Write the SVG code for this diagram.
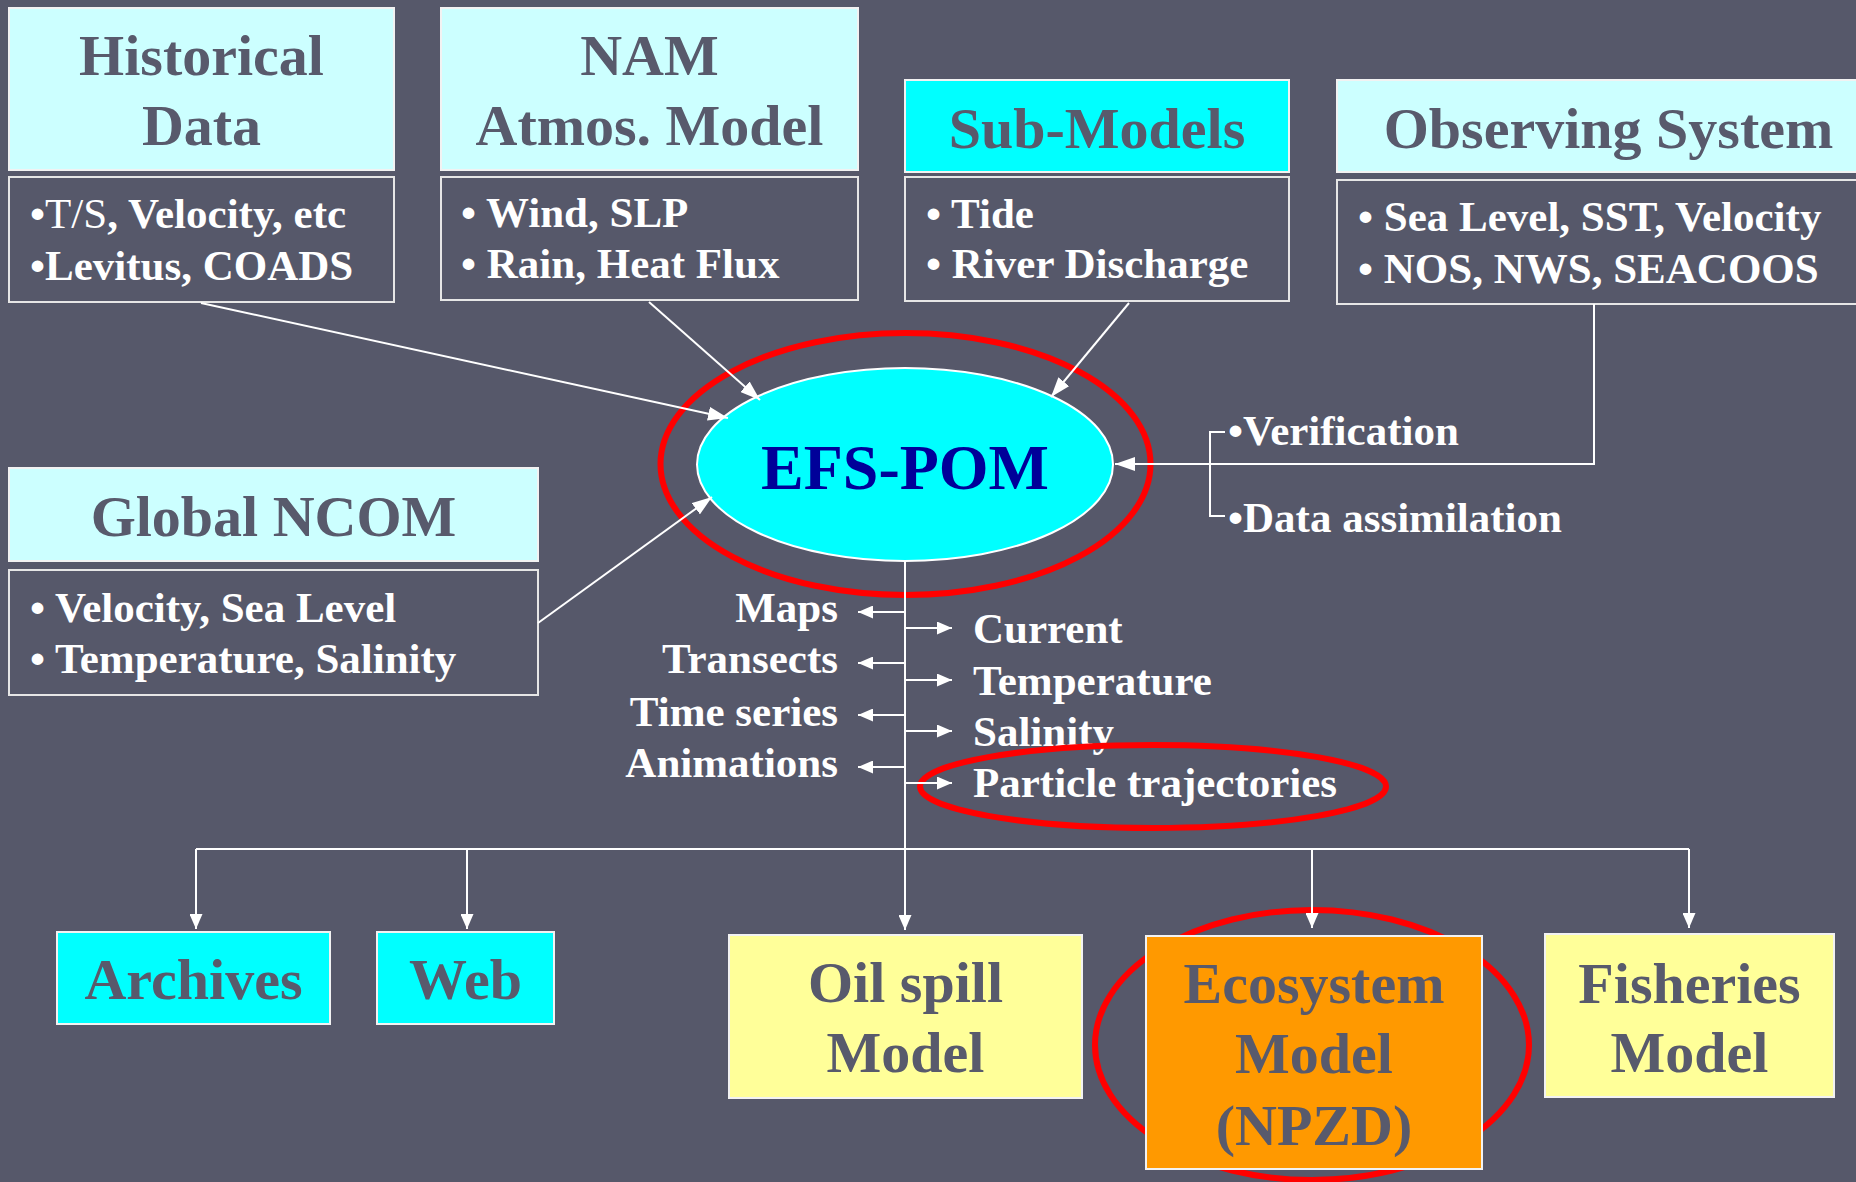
<svg xmlns="http://www.w3.org/2000/svg" width="1856" height="1182" viewBox="0 0 1856 1182">
<style>
text{font-family:"Liberation Serif","Times New Roman",serif;font-weight:bold}
.hd{fill:#CCFFFF;stroke:#F2F2F2;stroke-width:2}
.hdc{fill:#00FFFF;stroke:#F2F2F2;stroke-width:2}
.dt{fill:none;stroke:#E6E6E6;stroke-width:2}
.ht{font-size:58px;fill:#585A6C;text-anchor:middle}
.dx{font-size:43px;fill:#FFFFFF}
.ol{font-size:43px;fill:#FFFFFF;text-anchor:end}
.ln{fill:none;stroke:#FFFFFF;stroke-width:2}
.red{fill:none;stroke:#FF0000;stroke-width:6}
.yl{fill:#FFFF99;stroke:#F2F2F2;stroke-width:2}
.or{fill:#FF9900;stroke:#F2F2F2;stroke-width:2}
</style>
<defs>
<marker id="ah" markerWidth="20" markerHeight="14" refX="20" refY="7" orient="auto" markerUnits="userSpaceOnUse"><path d="M0,0 L20,7 L0,14 z" fill="#FFFFFF"/></marker>
<marker id="as" markerWidth="15" markerHeight="13" refX="15" refY="6.5" orient="auto" markerUnits="userSpaceOnUse"><path d="M0,0 L15,6.5 L0,13 z" fill="#FFFFFF"/></marker>
</defs>
<rect x="0" y="0" width="1856" height="1182" fill="#56586A"/>

<g id="historical">
<rect class="hd" x="9" y="8" width="385" height="162"/>
<text class="ht" x="201.5" y="75">Historical</text>
<text class="ht" x="201.5" y="145">Data</text>
<rect class="dt" x="9" y="177" width="385" height="125"/>
<text class="dx" x="30" y="228">•<tspan font-weight="normal">T/S</tspan>, Velocity, etc</text>
<text class="dx" x="30" y="280">•Levitus, COADS</text>
</g>

<g id="nam">
<rect class="hd" x="441" y="8" width="417" height="162"/>
<text class="ht" x="649.5" y="75">NAM</text>
<text class="ht" x="649.5" y="145">Atmos. Model</text>
<rect class="dt" x="441" y="177" width="417" height="123"/>
<text class="dx" x="461" y="227">• Wind, SLP</text>
<text class="dx" x="461" y="278">• Rain, Heat Flux</text>
</g>

<g id="submodels">
<rect class="hdc" x="905" y="80" width="384" height="92"/>
<text class="ht" x="1097" y="148">Sub-Models</text>
<rect class="dt" x="905" y="177" width="384" height="124"/>
<text class="dx" x="926" y="228">• Tide</text>
<text class="dx" x="926" y="278">• River Discharge</text>
</g>

<g id="observing">
<rect class="hd" x="1337" y="80" width="530" height="92"/>
<text class="ht" x="1608.5" y="148">Observing System</text>
<rect class="dt" x="1337" y="180" width="530" height="124"/>
<text class="dx" x="1358" y="231">• Sea Level, SST, Velocity</text>
<text class="dx" x="1358" y="283">• NOS, NWS, SEACOOS</text>
</g>

<g id="ncom">
<rect class="hd" x="9" y="468" width="529" height="93"/>
<text class="ht" x="273.5" y="536">Global NCOM</text>
<rect class="dt" x="9" y="570" width="529" height="125"/>
<text class="dx" x="30" y="622">• Velocity, Sea Level</text>
<text class="dx" x="30" y="673">• Temperature, Salinity</text>
</g>

<g id="efspom">
<ellipse cx="905" cy="464.5" rx="208" ry="96.5" fill="#00FFFF" stroke="#FFFFFF" stroke-width="2"/>
<text x="905" y="489" font-size="64" fill="#000099" text-anchor="middle">EFS-POM</text>
<ellipse class="red" cx="905.5" cy="464" rx="245" ry="131"/>
</g>

<g id="assim">
<text class="dx" x="1228" y="445">•Verification</text>
<text class="dx" x="1228" y="532">•Data assimilation</text>
</g>

<g id="outputs">
<text class="ol" x="838" y="622">Maps</text>
<text class="ol" x="838" y="673">Transects</text>
<text class="ol" x="838" y="726">Time series</text>
<text class="ol" x="838" y="777">Animations</text>
<text class="dx" x="973" y="643">Current</text>
<text class="dx" x="973" y="695">Temperature</text>
<text class="dx" x="973" y="746">Salinity</text>
<text class="dx" x="973" y="797">Particle trajectories</text>
<ellipse class="red" cx="1153" cy="786.5" rx="233" ry="41.5" stroke-width="5"/>
</g>

<g id="archives">
<rect class="hdc" x="57" y="932" width="273" height="92"/>
<text class="ht" x="193.5" y="999">Archives</text>
</g>
<g id="web">
<rect class="hdc" x="377" y="932" width="177" height="92"/>
<text class="ht" x="465.5" y="999">Web</text>
</g>
<g id="oilspill">
<rect class="yl" x="729" y="935" width="353" height="163"/>
<text class="ht" x="905.5" y="1002">Oil spill</text>
<text class="ht" x="905.5" y="1072">Model</text>
</g>
<g id="ecosystem">
<ellipse class="red" cx="1312" cy="1045" rx="217" ry="135" stroke-width="5"/>
<rect class="or" x="1146" y="936" width="336" height="233"/>
<text class="ht" x="1314" y="1003">Ecosystem</text>
<text class="ht" x="1314" y="1073">Model</text>
<text class="ht" x="1314" y="1145">(NPZD)</text>
</g>
<g id="fisheries">
<rect class="yl" x="1545" y="934" width="289" height="163"/>
<text class="ht" x="1689.5" y="1003">Fisheries</text>
<text class="ht" x="1689.5" y="1072">Model</text>
</g>

<g id="connectors">
<line class="ln" x1="201" y1="303" x2="728" y2="418" marker-end="url(#ah)"/>
<line class="ln" x1="649" y1="302" x2="760" y2="400" marker-end="url(#ah)"/>
<line class="ln" x1="1129" y1="303" x2="1051" y2="397" marker-end="url(#ah)"/>
<line class="ln" x1="538" y1="623" x2="712" y2="497" marker-end="url(#ah)"/>
<polyline class="ln" points="1594,304 1594,464 1115,464" marker-end="url(#ah)"/>
<polyline class="ln" points="1225,432 1210,432 1210,516 1225,516"/>
<line class="ln" x1="905" y1="561" x2="905" y2="930" marker-end="url(#as)"/>
<line class="ln" x1="905" y1="612" x2="858" y2="612" marker-end="url(#as)"/>
<line class="ln" x1="905" y1="663" x2="858" y2="663" marker-end="url(#as)"/>
<line class="ln" x1="905" y1="715" x2="858" y2="715" marker-end="url(#as)"/>
<line class="ln" x1="905" y1="767" x2="858" y2="767" marker-end="url(#as)"/>
<line class="ln" x1="905" y1="628" x2="952" y2="628" marker-end="url(#as)"/>
<line class="ln" x1="905" y1="680" x2="952" y2="680" marker-end="url(#as)"/>
<line class="ln" x1="905" y1="731" x2="952" y2="731" marker-end="url(#as)"/>
<line class="ln" x1="905" y1="783" x2="952" y2="783" marker-end="url(#as)"/>
<line class="ln" x1="196" y1="849" x2="1689" y2="849"/>
<line class="ln" x1="196" y1="849" x2="196" y2="929" marker-end="url(#as)"/>
<line class="ln" x1="467" y1="849" x2="467" y2="929" marker-end="url(#as)"/>
<line class="ln" x1="1312" y1="849" x2="1312" y2="928" marker-end="url(#as)"/>
<line class="ln" x1="1689" y1="849" x2="1689" y2="928" marker-end="url(#as)"/>
</g>
</svg>
